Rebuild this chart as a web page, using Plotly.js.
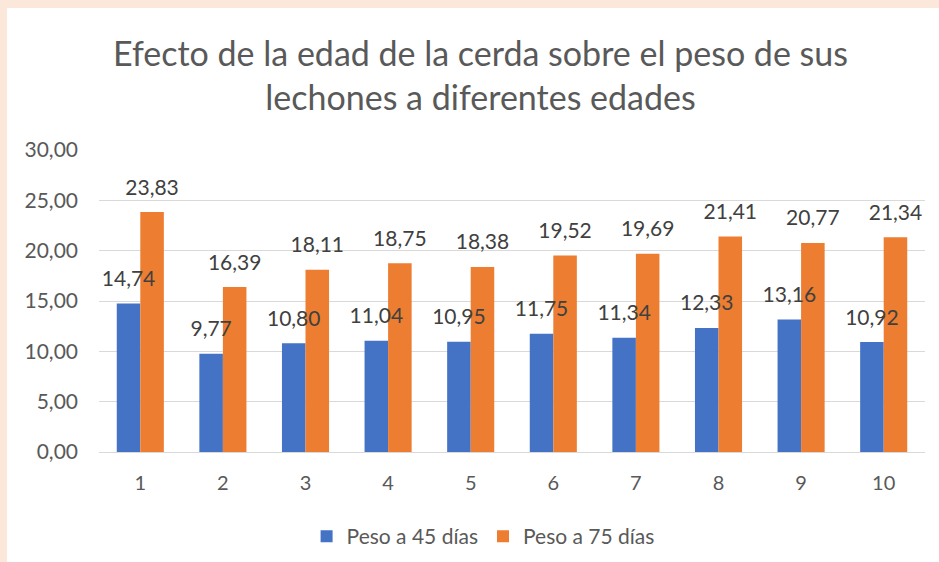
<!DOCTYPE html>
<html>
<head>
<meta charset="utf-8">
<script src="https://cdn.plot.ly/plotly-3.0.1.min.js"></script>
<style>
html,body{margin:0;padding:0;background:#fce8da;width:939px;height:562px;overflow:hidden;}
#chart{position:absolute;left:7px;top:8px;width:932px;height:554px;background:#fff;}
</style>
</head>
<body>
<div id="chart"></div>
<script>
const categories = ['1','2','3','4','5','6','7','8','9','10'];
const peso45 = [14.74, 9.77, 10.80, 11.04, 10.95, 11.75, 11.34, 12.33, 13.16, 10.92];
const peso75 = [23.83, 16.39, 18.11, 18.75, 18.38, 19.52, 19.69, 21.41, 20.77, 21.34];
const seriesNames = ['Peso a 45 días', 'Peso a 75 días'];
const yTicks = [0, 5, 10, 15, 20, 25, 30];

const FONT = 'Lato, "Open Sans", sans-serif';
const labelFont = {family: FONT, size: 21, color: '#404040'};
const colors = ['#4472C4', '#ED7D31'];
const values = [peso45, peso75];

const traces = [];
values.forEach((v, i) => {
  traces.push({type:'bar', x:categories, y:v, name:seriesNames[i], offsetgroup:String(i),
    marker:{color:colors[i]}, hoverinfo:'none'});
});
// data labels drawn on top of all bars
values.forEach((v, i) => {
  traces.push({type:'scatter', mode:'markers+text', x:categories, y:v, offsetgroup:String(i),
    marker:{size:18, opacity:0, color:colors[i]}, texttemplate:'%{y:.2f}', textposition:'top center',
    textfont:labelFont, showlegend:false, cliponaxis:false, hoverinfo:'none'});
});

const layout = {
  width:932, height:554,
  paper_bgcolor:'#ffffff', plot_bgcolor:'#ffffff',
  separators:',.',
  font:{family:FONT, color:'#595959'},
  margin:{l:92, r:14, t:142, b:110, autoexpand:false},
  title:{text:'Efecto de la edad de la cerda sobre el peso de sus<br>lechones a diferentes edades',
         font:{family:FONT, size:34, color:'#595959'}, x:(480.5-7)/932, xanchor:'center', xref:'container',
         y:1-58/554, yanchor:'top', yref:'container'},
  barmode:'group', bargap:0.43, bargroupgap:0,
  scattermode:'group', scattergap:0.43,
  xaxis:{type:'category', showgrid:false, zeroline:false, showline:false, ticks:'',
         tickfont:{family:FONT, size:20, color:'#595959'}, ticklabelstandoff:17},
  yaxis:{range:[0,30], tickvals:yTicks, tickformat:'.2f', showgrid:true, gridcolor:'#d9d9d9', gridwidth:1,
         zeroline:true, zerolinecolor:'#d9d9d9', zerolinewidth:1, showline:false, ticks:'',
         tickfont:{family:FONT, size:21, color:'#595959'}, ticklabelstandoff:20},
  showlegend:true,
  legend:{orientation:'h', x:0.465, xanchor:'center', y:-0.28, yanchor:'middle',
          font:{family:FONT, size:21, color:'#595959'}, itemwidth:30, traceorder:'normal'}
};

Plotly.newPlot('chart', traces, layout, {displayModeBar:false, staticPlot:true});
</script>
</body>
</html>
